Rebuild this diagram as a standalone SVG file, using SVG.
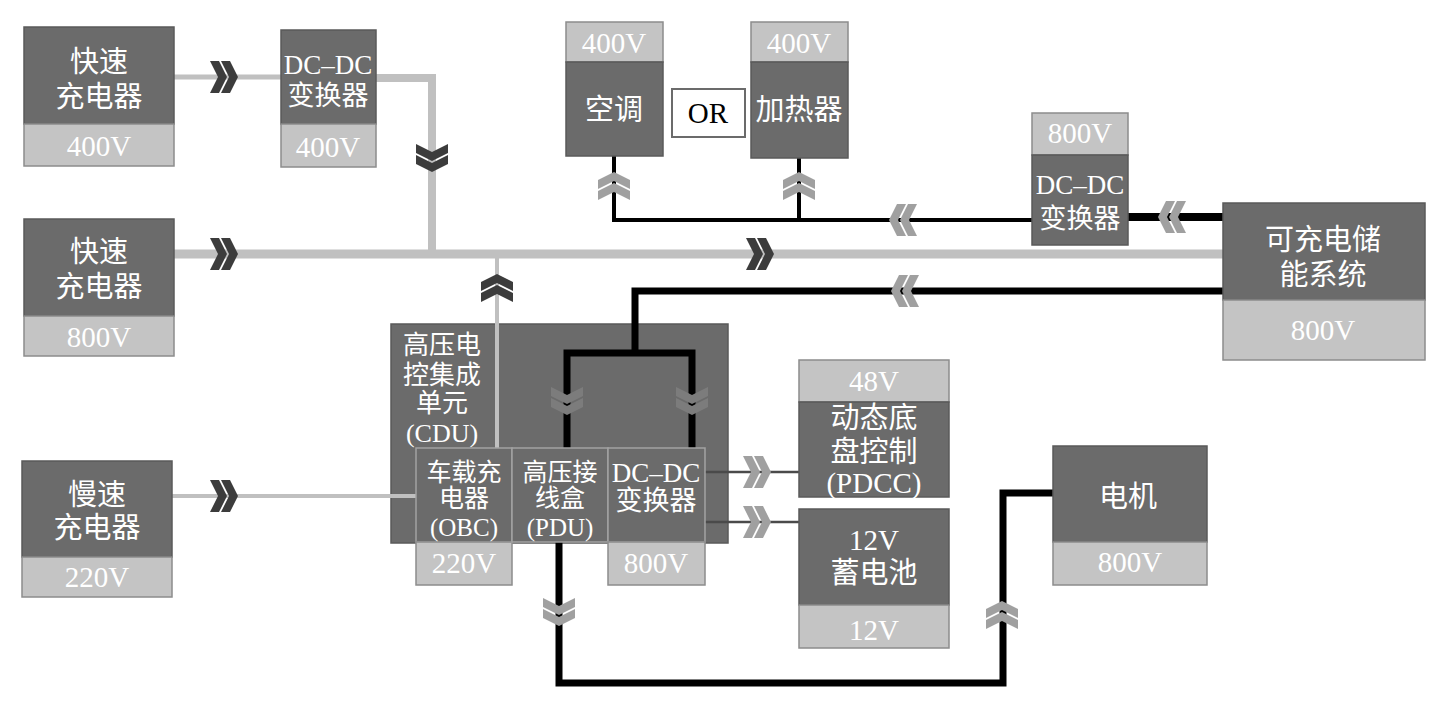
<svg xmlns="http://www.w3.org/2000/svg" xmlns:xlink="http://www.w3.org/1999/xlink" width="1438" height="706" viewBox="0 0 1438 706">
<style>
.dk{fill:#6b6b6b;stroke:#5a5a5a;stroke-width:1.5}
.lt{fill:#c4c4c4;stroke:#8c8c8c;stroke-width:1.5}
.sub{fill:#6b6b6b;stroke:#a3a3a3;stroke-width:1.5}
.t{font-family:"Liberation Serif","Noto Sans CJK SC",serif;fill:#ffffff;text-anchor:middle;font-size:29px}
.s27{font-size:27px}
.s26{font-size:26px}
.s25{font-size:25px}
.gl{fill:none;stroke:#c0c0c0;stroke-linejoin:miter}
.bl{fill:none;stroke:#000000;stroke-linejoin:miter}
.cd{fill:#3c3c3c}
.cg{fill:#a0a0a0}
.ci{fill:#7c7c7c}
</style>
<defs>
<g id="chev">
<polygon points="-14,-16 -5,-16 3,0 -5,16 -14,16 -6,0"/>
<polygon points="-3,-16 6,-16 14,0 6,16 -3,16 5,0"/>
</g>
</defs>
<rect width="1438" height="706" fill="#ffffff"/>

<g id="cdu">
<rect class="dk" x="391" y="324" width="337" height="219"/>
<text class="t s26" x="442" y="354">高压电</text>
<text class="t s26" x="442" y="384">控集成</text>
<text class="t s26" x="442" y="412">单元</text>
<text class="t s26" x="442" y="442">(CDU)</text>
</g>

<g id="connectors">
<line class="gl" x1="174" y1="77" x2="281" y2="77" stroke-width="5"/>
<polyline class="gl" points="375,78 432,78 432,254" stroke-width="8"/>
<line class="gl" x1="174" y1="254" x2="1223" y2="254" stroke-width="9"/>
<line class="gl" x1="497" y1="254" x2="497" y2="448" stroke-width="4"/>
<line class="gl" x1="172" y1="496" x2="416" y2="496" stroke-width="4" stroke="#c8c8c8"/>
<polyline class="bl" points="614,156 614,220 1032,220" stroke-width="4"/>
<line class="bl" x1="799" y1="158" x2="799" y2="220" stroke-width="4"/>
<line class="bl" x1="1128" y1="217" x2="1223" y2="217" stroke-width="8"/>
<polyline class="bl" points="1223,291 635,291 635,353" stroke-width="7"/>
<polyline class="bl" points="567,448 567,353 692,353 692,448" stroke-width="7"/>
<polyline class="bl" points="559,542 559,683 1003,683 1003,493 1053,493" stroke-width="7"/>
<line x1="705" y1="472" x2="799" y2="472" stroke="#4a4a4a" stroke-width="2.5"/>
<line x1="705" y1="522" x2="799" y2="522" stroke="#4a4a4a" stroke-width="2.5"/>
<use xlink:href="#chev" href="#chev" class="cd" transform="translate(224,77)"/>
<use xlink:href="#chev" href="#chev" class="cd" transform="translate(432,158) rotate(90)"/>
<use xlink:href="#chev" href="#chev" class="cd" transform="translate(224,254)"/>
<use xlink:href="#chev" href="#chev" class="cd" transform="translate(760,254)"/>
<use xlink:href="#chev" href="#chev" class="cd" transform="translate(497,288) rotate(-90)"/>
<use xlink:href="#chev" href="#chev" class="cd" transform="translate(224,496)"/>
<use xlink:href="#chev" href="#chev" class="cg" transform="translate(614,186) rotate(-90)"/>
<use xlink:href="#chev" href="#chev" class="cg" transform="translate(799,186) rotate(-90)"/>
<use xlink:href="#chev" href="#chev" class="cg" transform="translate(903,220) rotate(180)"/>
<use xlink:href="#chev" href="#chev" class="cg" transform="translate(1172,217) rotate(180)"/>
<use xlink:href="#chev" href="#chev" class="cg" transform="translate(905,291) rotate(180)"/>
<use xlink:href="#chev" href="#chev" class="ci" transform="translate(567,401) rotate(90)"/>
<use xlink:href="#chev" href="#chev" class="ci" transform="translate(692,401) rotate(90)"/>
<use xlink:href="#chev" href="#chev" class="cg" transform="translate(559,612) rotate(90)"/>
<use xlink:href="#chev" href="#chev" class="cg" transform="translate(757,472)"/>
<use xlink:href="#chev" href="#chev" class="cg" transform="translate(757,522)"/>
<use xlink:href="#chev" href="#chev" class="cg" transform="translate(1002,615) rotate(-90)"/>
</g>

<g id="fast-charger-400">
<rect class="dk" x="24" y="27" width="150" height="97"/>
<rect class="lt" x="24" y="124" width="150" height="42"/>
<text class="t" x="99" y="72">快速</text>
<text class="t" x="99" y="107">充电器</text>
<text class="t" x="99" y="156">400V</text>
</g>

<g id="dcdc-400">
<rect class="dk" x="281" y="30" width="95" height="94"/>
<rect class="lt" x="281" y="124" width="95" height="43"/>
<text class="t s27" x="328" y="74">DC–DC</text>
<text class="t s27" x="328" y="105">变换器</text>
<text class="t" x="328" y="157">400V</text>
</g>

<g id="fast-charger-800">
<rect class="dk" x="24" y="219" width="150" height="97"/>
<rect class="lt" x="24" y="316" width="150" height="40"/>
<text class="t" x="99" y="262">快速</text>
<text class="t" x="99" y="297">充电器</text>
<text class="t" x="99" y="347">800V</text>
</g>

<g id="slow-charger">
<rect class="dk" x="22" y="461" width="150" height="96"/>
<rect class="lt" x="22" y="557" width="150" height="40"/>
<text class="t" x="97" y="505">慢速</text>
<text class="t" x="97" y="538">充电器</text>
<text class="t" x="97" y="587">220V</text>
</g>

<g id="aircon">
<rect class="lt" x="566" y="22" width="97" height="40"/>
<rect class="dk" x="566" y="62" width="97" height="94"/>
<text class="t" x="614" y="53">400V</text>
<text class="t" x="614" y="120">空调</text>
</g>

<g id="or">
<rect x="672" y="89" width="73" height="48" fill="#ffffff" stroke="#6b6b6b" stroke-width="2"/>
<text class="t" x="708" y="123" style="fill:#000000">OR</text>
</g>

<g id="heater">
<rect class="lt" x="751" y="22" width="97" height="40"/>
<rect class="dk" x="751" y="62" width="97" height="96"/>
<text class="t" x="799" y="53">400V</text>
<text class="t" x="799" y="120">加热器</text>
</g>

<g id="dcdc-800">
<rect class="lt" x="1032" y="113" width="96" height="42"/>
<rect class="dk" x="1032" y="155" width="96" height="90"/>
<text class="t" x="1080" y="143">800V</text>
<text class="t s27" x="1080" y="194">DC–DC</text>
<text class="t s27" x="1080" y="228">变换器</text>
</g>

<g id="ess">
<rect class="dk" x="1223" y="203" width="202" height="97"/>
<rect class="lt" x="1223" y="300" width="202" height="60"/>
<text class="t" x="1323" y="250">可充电储</text>
<text class="t" x="1323" y="285">能系统</text>
<text class="t" x="1323" y="340">800V</text>
</g>

<g id="obc">
<rect class="sub" x="416" y="448" width="96" height="94"/>
<rect class="lt" x="416" y="542" width="96" height="43"/>
<text class="t s25" x="464" y="481">车载充</text>
<text class="t s25" x="464" y="507">电器</text>
<text class="t s25" x="464" y="536">(OBC)</text>
<text class="t" x="464" y="573">220V</text>
</g>

<g id="pdu">
<rect class="sub" x="512" y="448" width="96" height="94"/>
<text class="t s25" x="560" y="481">高压接</text>
<text class="t s25" x="560" y="507">线盒</text>
<text class="t s25" x="560" y="536">(PDU)</text>
</g>

<g id="dcdc-cdu">
<rect class="sub" x="608" y="448" width="97" height="94"/>
<rect class="lt" x="608" y="542" width="97" height="43"/>
<text class="t s27" x="656" y="482">DC–DC</text>
<text class="t s27" x="656" y="510">变换器</text>
<text class="t" x="656" y="573">800V</text>
</g>

<g id="pdcc">
<rect class="lt" x="799" y="360" width="150" height="42"/>
<rect class="dk" x="799" y="402" width="150" height="95"/>
<text class="t" x="874" y="391">48V</text>
<text class="t" x="874" y="428">动态底</text>
<text class="t" x="874" y="462">盘控制</text>
<text class="t" x="874" y="493">(PDCC)</text>
</g>

<g id="battery-12v">
<rect class="dk" x="799" y="509" width="150" height="96"/>
<rect class="lt" x="799" y="605" width="150" height="43"/>
<text class="t" x="874" y="550">12V</text>
<text class="t" x="874" y="583">蓄电池</text>
<text class="t" x="874" y="640">12V</text>
</g>

<g id="motor">
<rect class="dk" x="1053" y="446" width="154" height="96"/>
<rect class="lt" x="1053" y="542" width="154" height="43"/>
<text class="t" x="1128" y="507">电机</text>
<text class="t" x="1130" y="572">800V</text>
</g>
</svg>
